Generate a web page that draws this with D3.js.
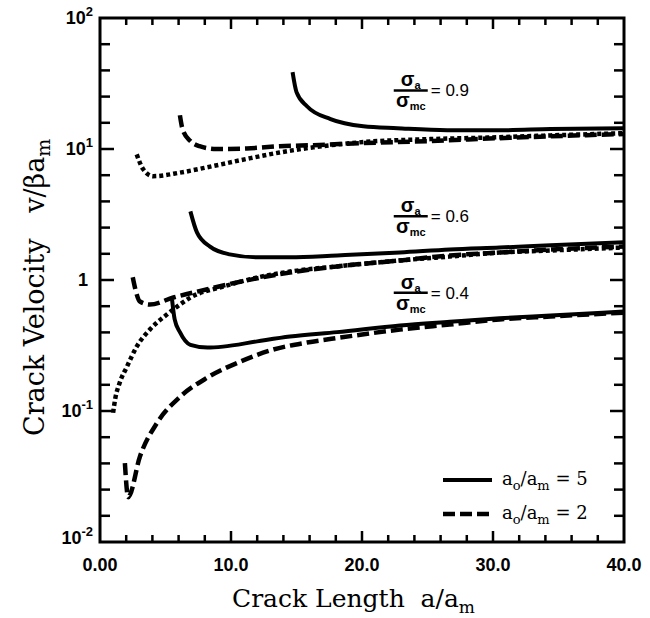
<!DOCTYPE html>
<html>
<head>
<meta charset="utf-8">
<script src="https://cdn.jsdelivr.net/npm/d3@7"></script>
<style>
  body { margin: 0; background: #fff; }
</style>
</head>
<body>
<div id="chart"></div>
<script>
// curves, [a/am, v/(beta am)]
// sigma_a/sigma_mc = 0.9
const solid09 = [[14.7,38.6],[15.0,27.2],[15.8,21.2],[17.6,16.9],[20.1,14.9],[22.7,14.4],[26.5,13.9],[30.5,13.9],[34.4,14.2],[40,14.4]];
const dashed09 = [[6.1,18.1],[6.3,14.2],[6.9,11.5],[7.6,10.5],[8.9,10.0],[11.2,10.1],[13.7,10.5],[16.3,10.7],[20.1,11.1],[25.2,11.5],[30.5,12.1],[34.4,12.5],[40,13.0]];
const dotted09 = [[2.8,9.1],[3.3,7.0],[4.05,6.2],[6.1,6.6],[8.6,7.4],[11.2,8.4],[13.7,9.4],[16.3,10.3],[20.1,11.3],[25.2,11.9],[30.5,12.3],[34.4,12.7],[40,13.2]];
// sigma_a/sigma_mc = 0.6
const solid06 = [[6.9,3.34],[7.4,2.31],[8.4,1.80],[9.9,1.57],[12.0,1.49],[14.5,1.49],[18.1,1.54],[22.9,1.62],[26.7,1.71],[30.5,1.77],[34.4,1.84],[40,1.94]];
const dashed06 = [[2.5,1.05],[2.7,0.85],[3.05,0.685],[3.8,0.65],[5.6,0.735],[8.2,0.85],[10.7,0.97],[14.5,1.14],[18.1,1.27],[22.9,1.41],[26.7,1.54],[30.5,1.62],[34.4,1.71],[40,1.80]];
const dotted06 = [[1.0,0.097],[1.15,0.122],[1.5,0.164],[2.06,0.218],[2.8,0.31],[3.8,0.418],[5.1,0.545],[6.1,0.65],[6.9,0.735],[9.4,0.89],[12.0,1.045],[14.5,1.16],[18.1,1.27],[22.9,1.41],[26.7,1.51],[30.5,1.62],[34.4,1.68],[40,1.77]];
// sigma_a/sigma_mc = 0.4
const solid04 = [[5.5,0.71],[5.7,0.50],[6.1,0.40],[6.9,0.32],[8.2,0.305],[9.4,0.31],[12.0,0.34],[14.5,0.37],[18.1,0.40],[22.9,0.45],[26.7,0.48],[30.5,0.51],[34.4,0.535],[40,0.574]];
const dashed04 = [[1.9,0.040],[2.15,0.022],[3.05,0.045],[4.35,0.081],[6.1,0.128],[8.2,0.18],[10.7,0.238],[13.2,0.294],[15.8,0.333],[18.3,0.363],[22.9,0.418],[26.7,0.457],[30.5,0.50],[34.4,0.526],[40,0.564]];

const xTicks = [0, 10, 20, 30, 40];
const xTickLabels = ["0.00", "10.0", "20.0", "30.0", "40.0"];
const yTicks = [0.01, 0.1, 1, 10, 100];
const yTickBase = ["10", "10", "1", "10", "10"];
const yTickExp = ["-2", "-1", "", "1", "2"];

const ratioLabels = ["0.9", "0.6", "0.4"];
const ratioAnchorX = [22.5, 22.5, 22.5];
const ratioAnchorY = [28, 3.06, 0.80];

const legendLabels = ["5", "2"];

const W = 650, H = 618;
const plotLeft = 100, plotRight = 624, plotTop = 18, plotBottom = 542;

const svg = d3.select("#chart").append("svg")
  .attr("width", W)
  .attr("height", H);

const x = d3.scaleLinear().domain([0, 40]).range([plotLeft, plotRight]);
const y = d3.scaleLog().domain([0.01, 100]).range([plotBottom, plotTop]);

const line = d3.line()
  .x(d => x(d[0]))
  .y(d => y(d[1]))
  .curve(d3.curveMonotoneX);

// CURVES
const styles = {
  solid: { dash: null, width: 4 },
  dashed: { dash: "12,5", width: 4.5 },
  dotted: { dash: "4,3", width: 4.5 }
};

const curves = [
  [solid09, "solid"], [dashed09, "dashed"], [dotted09, "dotted"],
  [solid06, "solid"], [dashed06, "dashed"], [dotted06, "dotted"],
  [solid04, "solid"], [dashed04, "dashed"]
];

curves.forEach(([pts, kind]) => {
  svg.append("path")
    .attr("d", line(pts))
    .attr("fill", "none")
    .attr("stroke", "#000")
    .attr("stroke-width", styles[kind].width)
    .attr("stroke-dasharray", styles[kind].dash);
});

// FRAME + TICKS
svg.append("rect")
  .attr("x", plotLeft).attr("y", plotTop)
  .attr("width", plotRight - plotLeft).attr("height", plotBottom - plotTop)
  .attr("fill", "none")
  .attr("stroke", "#000")
  .attr("stroke-width", 3);

const xMinor = d3.range(2, 40, 2);
xMinor.forEach(v => {
  const len = v % 10 === 0 ? 11 : 7;
  svg.append("line")
    .attr("x1", x(v)).attr("x2", x(v))
    .attr("y1", plotBottom).attr("y2", plotBottom - len)
    .attr("stroke", "#000").attr("stroke-width", 2.5);
  svg.append("line")
    .attr("x1", x(v)).attr("x2", x(v))
    .attr("y1", plotTop).attr("y2", plotTop + len)
    .attr("stroke", "#000").attr("stroke-width", 2.5);
});

// y ticks every fifth of a decade, as in the original
const yMinor = d3.range(1, 20).map(i => Math.pow(10, -2 + i * 0.2));
yMinor.forEach((v, i) => {
  const len = (i + 1) % 5 === 0 ? 14 : 10;
  svg.append("line")
    .attr("x1", plotLeft).attr("x2", plotLeft + len)
    .attr("y1", y(v)).attr("y2", y(v))
    .attr("stroke", "#000").attr("stroke-width", 2.5);
  svg.append("line")
    .attr("x1", plotRight).attr("x2", plotRight - len)
    .attr("y1", y(v)).attr("y2", y(v))
    .attr("stroke", "#000").attr("stroke-width", 2.5);
});

// tick labels
const sans = "'Liberation Sans', Arial, sans-serif";
xTicks.forEach((v, i) => {
  svg.append("text")
    .attr("x", x(v))
    .attr("y", 571)
    .attr("text-anchor", "middle")
    .attr("font-family", sans)
    .attr("font-weight", "bold")
    .attr("font-size", 18)
    .text(xTickLabels[i]);
});

yTicks.forEach((v, i) => {
  const t = svg.append("text")
    .attr("x", yTickExp[i] ? 93 : 88)
    .attr("y", y(v) + (i === 0 ? 2 : 6))
    .attr("text-anchor", "end")
    .attr("font-family", sans)
    .attr("font-weight", "bold")
    .attr("font-size", 18);
  t.append("tspan").text(yTickBase[i]);
  if (yTickExp[i]) {
    t.append("tspan")
      .attr("font-size", 13)
      .attr("dy", -8)
      .text(yTickExp[i]);
  }
});

// AXIS TITLES
const serif = "'DejaVu Serif', serif";
const xTitle = svg.append("text")
  .attr("x", 232)
  .attr("y", 607)
  .attr("font-family", serif)
  .attr("font-size", 25);
xTitle.append("tspan").text("Crack Length\u00a0\u00a0a/a");
xTitle.append("tspan").attr("font-size", 17).attr("dy", 6).text("m");

const yTitle = svg.append("text")
  .attr("transform", "translate(44, 436) rotate(-90)")
  .attr("font-family", serif)
  .attr("font-size", 27);
yTitle.append("tspan").text("Crack Velocity\u00a0\u00a0\u00a0v/\u03b2a");
yTitle.append("tspan").attr("font-size", 19).attr("dy", 6).text("m");

// SIGMA RATIO LABELS
ratioLabels.forEach((lab, i) => {
  const cx = x(ratioAnchorX[i]) + 16;
  const cy = y(ratioAnchorY[i]);
  const g = svg.append("g");
  const num = g.append("text")
    .attr("x", cx).attr("y", cy - 4)
    .attr("text-anchor", "middle")
    .attr("font-family", sans)
    .attr("font-weight", "bold")
    .attr("font-size", 20);
  num.append("tspan").text("\u03c3");
  num.append("tspan").attr("font-size", 11).attr("dy", 3).text("a");
  g.append("line")
    .attr("x1", cx - 17).attr("x2", cx + 17)
    .attr("y1", cy).attr("y2", cy)
    .attr("stroke", "#000").attr("stroke-width", 2.5);
  const den = g.append("text")
    .attr("x", cx).attr("y", cy + 17)
    .attr("text-anchor", "middle")
    .attr("font-family", sans)
    .attr("font-weight", "bold")
    .attr("font-size", 20);
  den.append("tspan").text("\u03c3");
  den.append("tspan").attr("font-size", 11).attr("dy", 3).text("mc");
  g.append("text")
    .attr("x", cx + 20).attr("y", cy + 6)
    .attr("font-family", sans)
    .attr("font-size", 17)
    .text("= " + lab);
});

// LEGEND
const legendY = [480, 514];
const legendKinds = ["solid", "dashed"];
legendLabels.forEach((lab, i) => {
  svg.append("line")
    .attr("x1", 443).attr("x2", 492)
    .attr("y1", legendY[i]).attr("y2", legendY[i])
    .attr("stroke", "#000")
    .attr("stroke-width", styles[legendKinds[i]].width)
    .attr("stroke-dasharray", styles[legendKinds[i]].dash);
  const t = svg.append("text")
    .attr("x", 502).attr("y", legendY[i] + 5)
    .attr("font-family", serif)
    .attr("font-size", 18);
  t.append("tspan").text("a");
  t.append("tspan").attr("font-size", 13).attr("dy", 5).text("o");
  t.append("tspan").attr("dy", -5).text("/a");
  t.append("tspan").attr("font-size", 13).attr("dy", 5).text("m");
  t.append("tspan").attr("dy", -5).text(" = " + lab);
});
</script>
</body>
</html>
